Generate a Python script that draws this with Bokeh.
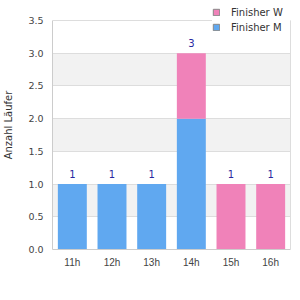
from bokeh.plotting import figure
from bokeh.models import (ColumnDataSource, Legend, LegendItem, FixedTicker,
                          NumeralTickFormatter, Range1d, LinearAxis, BoxAnnotation)
from bokeh.core.properties import value
from bokeh.embed import file_html
from bokeh.resources import INLINE

hours = ["11h", "12h", "13h", "14h", "15h", "16h"]
finisher_m = [1, 1, 1, 2, 0, 0]
finisher_w = [0, 0, 0, 1, 1, 1]
totals = [m + w for m, w in zip(finisher_m, finisher_w)]
y_ticks = [0, 0.5, 1.0, 1.5, 2.0, 2.5, 3.0, 3.5]
Y_MAX = 3.5

COL_M = "#60a8f0"
COL_W = "#f082b9"
FONT = "DejaVu Sans"

# layout: frame from canvas top to y=249; value Y_MAX sits 20px below top
FRAME_H = 249
TOP_GAP = 20
y_end = Y_MAX * FRAME_H / (FRAME_H - TOP_GAP)

src = ColumnDataSource(dict(hour=hours, M=finisher_m, W=finisher_w))

p = figure(x_range=hours, y_range=Range1d(0, y_end), width=300, height=300,
           output_backend="svg", toolbar_location=None,
           min_border_left=50, min_border_right=10, min_border_top=0,
           min_border_bottom=51)

# alternating background bands between tick pairs
for i in range(1, len(y_ticks) - 1, 2):
    p.add_layout(BoxAnnotation(bottom=y_ticks[i], top=y_ticks[i + 1],
                               fill_color="#f2f2f2", fill_alpha=1.0,
                               line_color=None, level="image"))

bars = p.vbar_stack(["M", "W"], x="hour", width=0.73, source=src,
                    color=[COL_M, COL_W], line_color=None)

lbl_src = ColumnDataSource(dict(hour=[h for h, t in zip(hours, totals) if t > 0],
                                total=[t for t in totals if t > 0],
                                lab=[str(t) for t in totals if t > 0]))
p.text(x="hour", y="total", text="lab", source=lbl_src, text_align="center",
       text_baseline="bottom", y_offset=-6, text_font=value(FONT),
       text_font_size="10px", text_color="#28289f")

# legend proxies (NaN height: nothing drawn in the plot)
nan = float("nan")
pw = p.vbar(x=[hours[0]], top=[nan], width=0.5, fill_color=COL_W, line_color="#888888")
pm = p.vbar(x=[hours[0]], top=[nan], width=0.5, fill_color=COL_M, line_color="#888888")
legend = Legend(items=[LegendItem(label="Finisher W", renderers=[pw]),
                       LegendItem(label="Finisher M", renderers=[pm])],
                location=(160, 216), glyph_width=8, glyph_height=8,
                label_height=12, label_width=70, spacing=3, padding=3, margin=0,
                label_standoff=11, label_text_font=FONT,
                label_text_font_size="10px", label_text_color="#333333",
                background_fill_color="white", background_fill_alpha=1.0,
                border_line_color=None)
p.add_layout(legend, "center")

p.xgrid.grid_line_color = None
p.ygrid.grid_line_color = "#dddddd"
p.ygrid.band_fill_color = None
p.ygrid.ticker = FixedTicker(ticks=y_ticks)
p.ygrid.bounds = (0, Y_MAX)

p.outline_line_color = None

p.yaxis.ticker = FixedTicker(ticks=y_ticks)
p.yaxis.bounds = (0, Y_MAX)
p.yaxis.formatter = NumeralTickFormatter(format="0.0")
p.yaxis.axis_label = "Anzahl Läufer"
p.yaxis.axis_label_text_font = FONT
p.yaxis.axis_label_text_font_size = "10px"
p.yaxis.axis_label_text_font_style = "normal"
p.yaxis.axis_label_text_color = "#333333"
p.yaxis.axis_label_standoff = 11

right = LinearAxis(ticker=FixedTicker(ticks=[]), bounds=(0, Y_MAX),
                   axis_line_color="#dddddd", major_tick_line_color=None,
                   minor_tick_line_color=None)
p.add_layout(right, "right")

for ax in (p.xaxis[0], p.yaxis[0]):
    ax.axis_line_color = "#cccccc"
    ax.major_tick_line_color = None
    ax.minor_tick_line_color = None
    ax.major_tick_out = 0
    ax.major_tick_in = 0
    ax.major_label_text_color = "#444444"
p.yaxis.major_label_text_font = FONT
p.yaxis.major_label_text_font_size = "9.5px"
p.xaxis.major_label_text_font = "Liberation Sans"
p.xaxis.major_label_text_font_size = "10px"
p.yaxis.major_label_standoff = 9
p.xaxis.major_label_standoff = 7
p.x_range.range_padding = 0

open("out.html", "w").write(file_html(p, INLINE))
